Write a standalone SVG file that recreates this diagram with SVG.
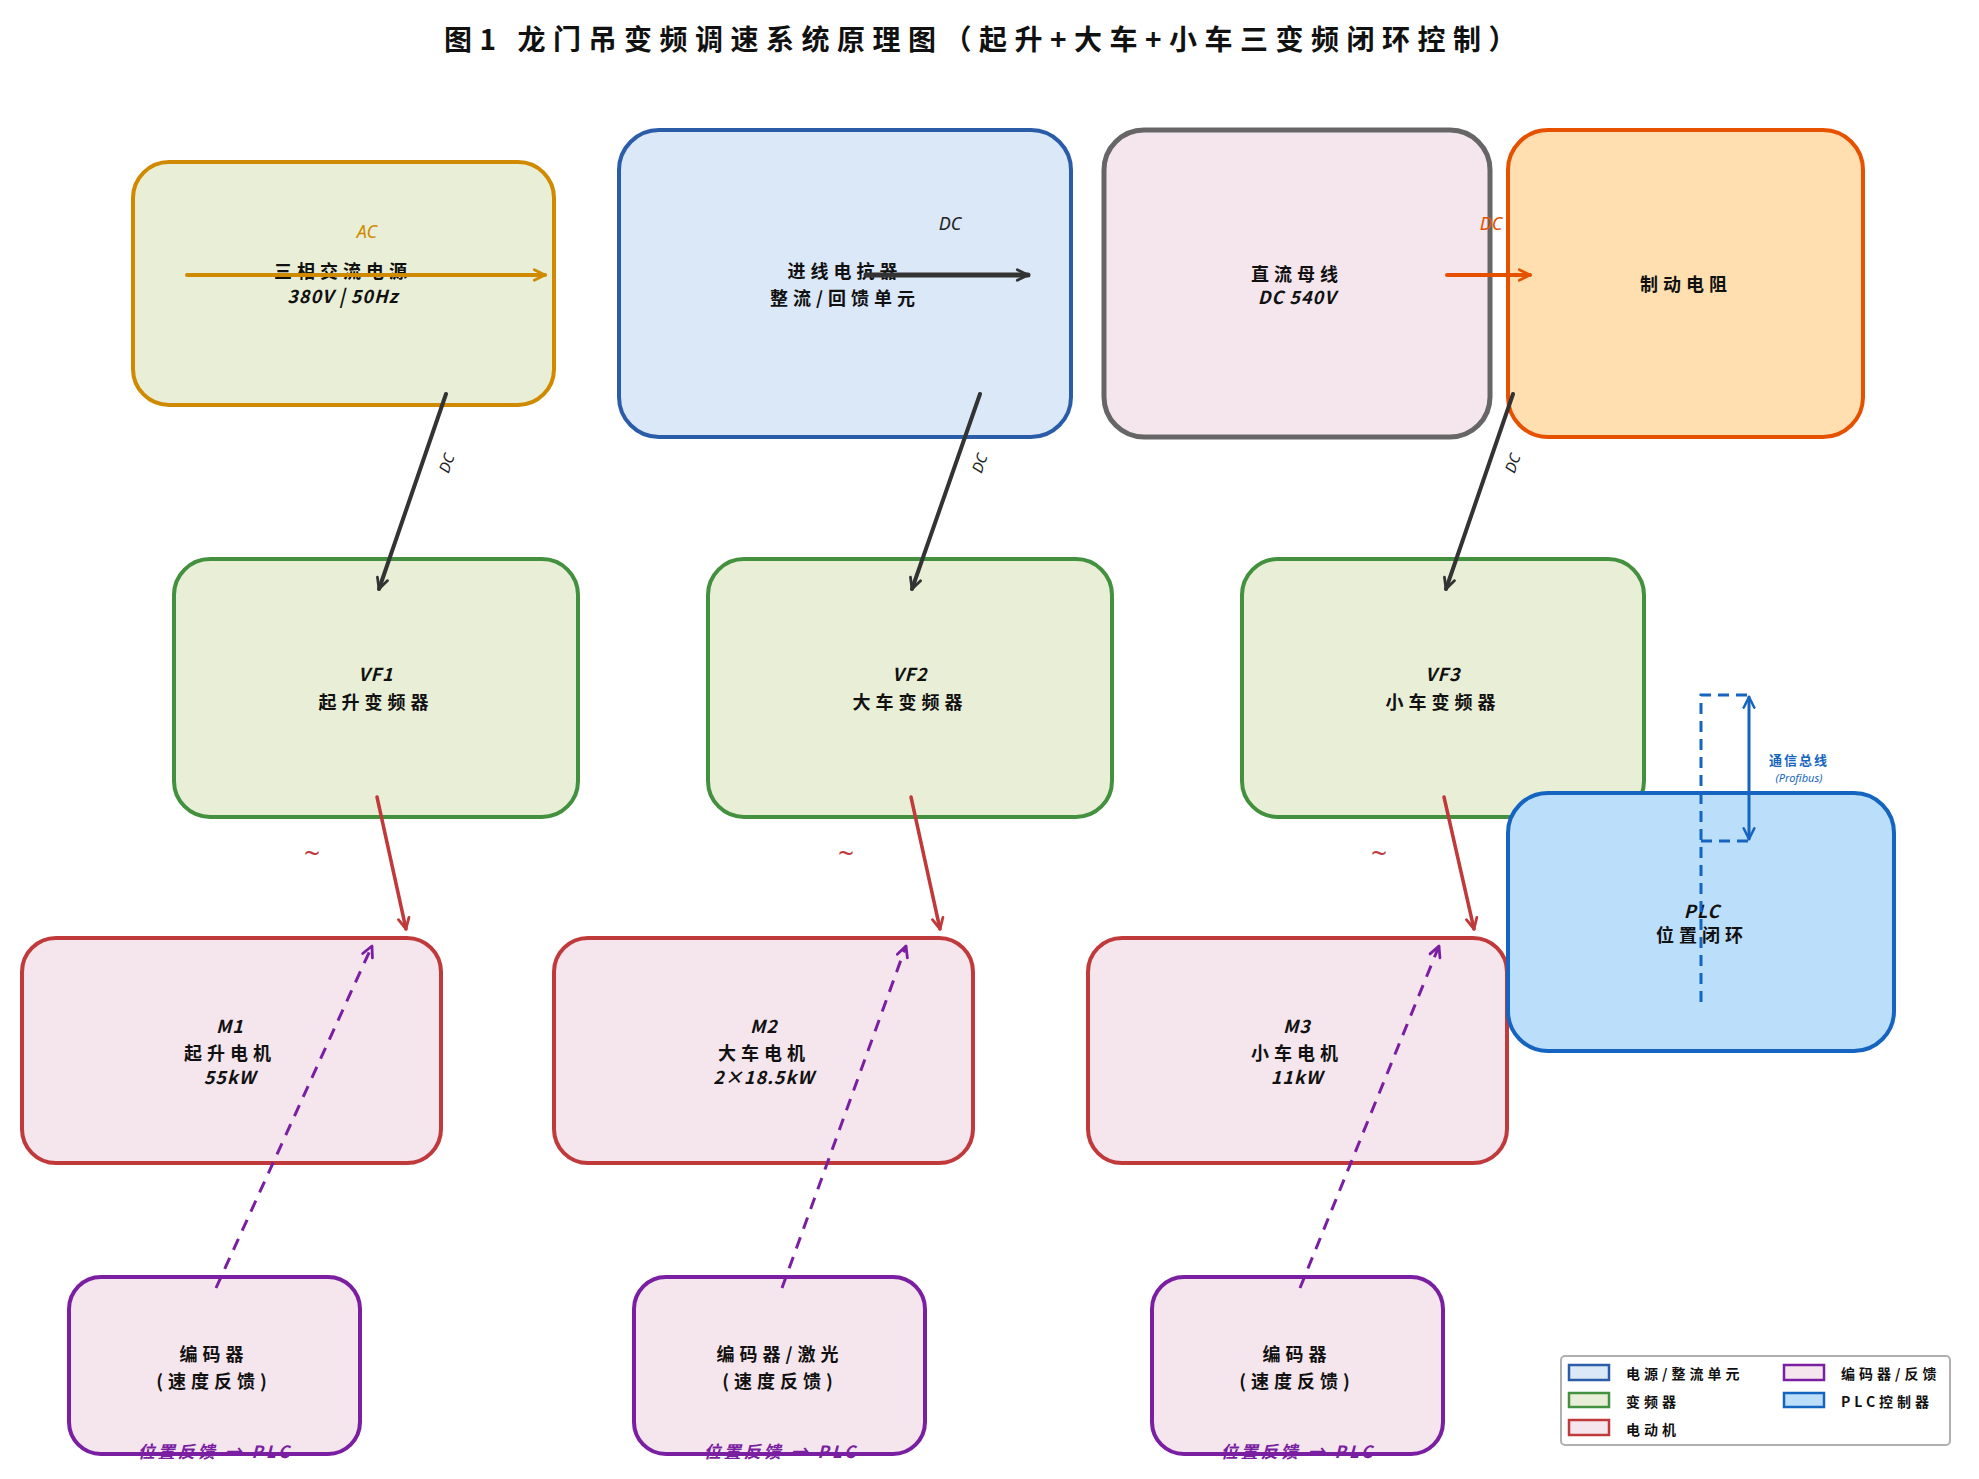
<svg xmlns="http://www.w3.org/2000/svg" width="1979" height="1479" viewBox="0 0 1979 1479">
<defs>
<style>
.t{font-family:"Noto Sans CJK SC","Noto Sans",sans-serif;font-size:18px;font-weight:700;fill:#111;letter-spacing:5px;text-anchor:middle;dominant-baseline:central}
.lat{letter-spacing:1px;font-style:italic}
.title{font-family:"Noto Sans CJK SC","Noto Sans",sans-serif;font-size:28px;font-weight:700;fill:#111;letter-spacing:7.5px;text-anchor:middle;dominant-baseline:central}
.el{font-family:"Noto Sans","Noto Sans CJK SC",sans-serif;font-size:18px;font-style:italic;text-anchor:middle;dominant-baseline:central}
.rot{font-size:15px;fill:#222}
.tl{font-size:28px;font-style:normal;fill:#c0393b}
.bus{font-family:"Noto Sans CJK SC",sans-serif;font-size:13px;font-style:normal;font-weight:700;letter-spacing:2px;fill:#1565c0}
.pb{font-size:11px;fill:#1565c0}
.fb{font-family:"Noto Sans CJK SC",sans-serif;font-size:17px;font-style:italic;font-weight:700;letter-spacing:3px;fill:#7b1fa2;text-anchor:middle;dominant-baseline:central}
.lg{font-family:"Noto Sans CJK SC","Noto Sans",sans-serif;font-size:14px;font-weight:700;fill:#111;letter-spacing:4px;dominant-baseline:central}
.box{stroke-width:4}
</style>
<marker id="aDark" viewBox="0 0 14 14" refX="12" refY="7" markerWidth="15" markerHeight="15" markerUnits="userSpaceOnUse" orient="auto"><path d="M2,2 L12,7 L2,12" fill="none" stroke="#333" stroke-width="2.6" stroke-linecap="round" stroke-linejoin="round"/></marker>
<marker id="aGold" viewBox="0 0 14 14" refX="12" refY="7" markerWidth="15" markerHeight="15" markerUnits="userSpaceOnUse" orient="auto"><path d="M2,2 L12,7 L2,12" fill="none" stroke="#d08a00" stroke-width="2.6" stroke-linecap="round" stroke-linejoin="round"/></marker>
<marker id="aOrange" viewBox="0 0 14 14" refX="12" refY="7" markerWidth="15" markerHeight="15" markerUnits="userSpaceOnUse" orient="auto"><path d="M2,2 L12,7 L2,12" fill="none" stroke="#e65100" stroke-width="2.6" stroke-linecap="round" stroke-linejoin="round"/></marker>
<marker id="aRed" viewBox="0 0 14 14" refX="12" refY="7" markerWidth="15" markerHeight="15" markerUnits="userSpaceOnUse" orient="auto"><path d="M2,2 L12,7 L2,12" fill="none" stroke="#c0393b" stroke-width="2.6" stroke-linecap="round" stroke-linejoin="round"/></marker>
<marker id="aPurple" viewBox="0 0 14 14" refX="12" refY="7" markerWidth="15" markerHeight="15" markerUnits="userSpaceOnUse" orient="auto"><path d="M2,2 L12,7 L2,12" fill="none" stroke="#7b1fa2" stroke-width="2.6" stroke-linecap="round" stroke-linejoin="round"/></marker>
<marker id="aBlue" viewBox="0 0 14 14" refX="12" refY="7" markerWidth="15" markerHeight="15" markerUnits="userSpaceOnUse" orient="auto-start-reverse"><path d="M2,2 L12,7 L2,12" fill="none" stroke="#1565c0" stroke-width="2.4" stroke-linecap="round" stroke-linejoin="round"/></marker>
</defs>
<rect width="1979" height="1479" fill="#ffffff"/>
<text class="title" x="984" y="38">图1 龙门吊变频调速系统原理图（起升+大车+小车三变频闭环控制）</text>

<g id="nodes">
<g id="power">
<rect class="box" x="133" y="162" width="421" height="243" rx="36" fill="#e9efd6" stroke="#d08a00"/>
<text class="t" x="343" y="270">三相交流电源</text>
<text class="t lat" x="343" y="295">380V | 50Hz</text>
</g>
<g id="reactor">
<rect class="box" x="619" y="130" width="452" height="307" rx="40" fill="#dae8f8" stroke="#2b5ca8"/>
<text class="t" x="845" y="270">进线电抗器</text>
<text class="t" x="845" y="297">整流/回馈单元</text>
</g>
<g id="dcbus">
<rect x="1104" y="130" width="386" height="307" rx="40" fill="#f5e6ee" stroke="#666666" stroke-width="5"/>
<text class="t" x="1297" y="273">直流母线</text>
<text class="t lat" x="1297" y="296">DC 540V</text>
</g>
<g id="brake">
<rect class="box" x="1508" y="130" width="355" height="307" rx="40" fill="#ffdfb0" stroke="#e65100"/>
<text class="t" x="1686" y="283">制动电阻</text>
</g>
<g id="vf1">
<rect class="box" x="174" y="559" width="404" height="258" rx="36" fill="#e9efd6" stroke="#43903f"/>
<text class="t lat" x="376" y="673">VF1</text>
<text class="t" x="376" y="701">起升变频器</text>
</g>
<g id="vf2">
<rect class="box" x="708" y="559" width="404" height="258" rx="36" fill="#e9efd6" stroke="#43903f"/>
<text class="t lat" x="910" y="673">VF2</text>
<text class="t" x="910" y="701">大车变频器</text>
</g>
<g id="vf3">
<rect class="box" x="1242" y="559" width="402" height="258" rx="36" fill="#e9efd6" stroke="#43903f"/>
<text class="t lat" x="1443" y="673">VF3</text>
<text class="t" x="1443" y="701">小车变频器</text>
</g>
<g id="m1">
<rect class="box" x="22" y="938" width="419" height="225" rx="34" fill="#f5e6ee" stroke="#c0393b"/>
<text class="t lat" x="230" y="1025">M1</text>
<text class="t" x="230" y="1052">起升电机</text>
<text class="t lat" x="230" y="1076">55kW</text>
</g>
<g id="m2">
<rect class="box" x="554" y="938" width="419" height="225" rx="34" fill="#f5e6ee" stroke="#c0393b"/>
<text class="t lat" x="764" y="1025">M2</text>
<text class="t" x="764" y="1052">大车电机</text>
<text class="t lat" x="764" y="1076">2×18.5kW</text>
</g>
<g id="m3">
<rect class="box" x="1088" y="938" width="419" height="225" rx="34" fill="#f5e6ee" stroke="#c0393b"/>
<text class="t lat" x="1297" y="1025">M3</text>
<text class="t" x="1297" y="1052">小车电机</text>
<text class="t lat" x="1297" y="1076">11kW</text>
</g>
<g id="enc1">
<rect class="box" x="69" y="1277" width="291" height="177" rx="32" fill="#f5e6ee" stroke="#7b1fa2"/>
<text class="t" x="214" y="1353">编码器</text>
<text class="t" x="214" y="1380">(速度反馈)</text>
</g>
<g id="enc2">
<rect class="box" x="634" y="1277" width="291" height="177" rx="32" fill="#f5e6ee" stroke="#7b1fa2"/>
<text class="t" x="780" y="1353">编码器/激光</text>
<text class="t" x="780" y="1380">(速度反馈)</text>
</g>
<g id="enc3">
<rect class="box" x="1152" y="1277" width="291" height="177" rx="32" fill="#f5e6ee" stroke="#7b1fa2"/>
<text class="t" x="1297" y="1353">编码器</text>
<text class="t" x="1297" y="1380">(速度反馈)</text>
</g>
<g id="plc">
<rect class="box" x="1508" y="793" width="386" height="258" rx="40" fill="#bbdefb" stroke="#1565c0"/>
<text class="t lat" x="1702" y="910">PLC</text>
<text class="t" x="1702" y="934">位置闭环</text>
</g>
</g>

<g id="connectors" fill="none" stroke-linecap="round">
<line x1="187" y1="275" x2="545" y2="275" stroke="#d08a00" stroke-width="4" marker-end="url(#aGold)"/>
<text class="el" x="367" y="231" fill="#d08a00">AC</text>
<line x1="866" y1="275" x2="1028" y2="275" stroke="#333" stroke-width="5" marker-end="url(#aDark)"/>
<text class="el" x="950" y="223" fill="#222">DC</text>
<line x1="1447" y1="275" x2="1530" y2="275" stroke="#e65100" stroke-width="4" marker-end="url(#aOrange)"/>
<text class="el" x="1491" y="223" fill="#e65100">DC</text>

<line x1="446" y1="394" x2="379" y2="589" stroke="#333" stroke-width="4" marker-end="url(#aDark)"/>
<line x1="980" y1="394" x2="912" y2="589" stroke="#333" stroke-width="4" marker-end="url(#aDark)"/>
<line x1="1513" y1="394" x2="1446" y2="589" stroke="#333" stroke-width="4" marker-end="url(#aDark)"/>
<text class="el rot" x="446" y="463" transform="rotate(-70 446 463)">DC</text>
<text class="el rot" x="979" y="463" transform="rotate(-70 979 463)">DC</text>
<text class="el rot" x="1512" y="463" transform="rotate(-70 1512 463)">DC</text>

<line x1="377" y1="797" x2="406" y2="929" stroke="#c0393b" stroke-width="3.5" marker-end="url(#aRed)"/>
<line x1="911" y1="797" x2="940" y2="929" stroke="#c0393b" stroke-width="3.5" marker-end="url(#aRed)"/>
<line x1="1444" y1="797" x2="1474" y2="929" stroke="#c0393b" stroke-width="3.5" marker-end="url(#aRed)"/>
<text class="el tl" x="312" y="852">~</text>
<text class="el tl" x="846" y="852">~</text>
<text class="el tl" x="1379" y="852">~</text>

<line x1="216" y1="1288" x2="372" y2="946" stroke="#7b1fa2" stroke-width="3" stroke-dasharray="12 9" stroke-linecap="butt" marker-end="url(#aPurple)"/>
<line x1="782" y1="1288" x2="906" y2="946" stroke="#7b1fa2" stroke-width="3" stroke-dasharray="12 9" stroke-linecap="butt" marker-end="url(#aPurple)"/>
<line x1="1300" y1="1288" x2="1439" y2="946" stroke="#7b1fa2" stroke-width="3" stroke-dasharray="12 9" stroke-linecap="butt" marker-end="url(#aPurple)"/>
<text class="fb" x="215" y="1450">位置反馈 → PLC</text>
<text class="fb" x="781" y="1450">位置反馈 → PLC</text>
<text class="fb" x="1298" y="1450">位置反馈 → PLC</text>

<path d="M1701,1002 V695 H1749 M1701,841 H1749" stroke="#1565c0" stroke-width="3" stroke-dasharray="11 7" stroke-linecap="butt"/>
<line x1="1749" y1="697" x2="1749" y2="839" stroke="#1565c0" stroke-width="3" marker-start="url(#aBlue)" marker-end="url(#aBlue)"/>
<text class="el bus" x="1799" y="759">通信总线</text>
<text class="el pb" x="1799" y="777">(Profibus)</text>
</g>

<g id="legend">
<rect x="1561" y="1356" width="389" height="89" rx="4" fill="#ffffff" stroke="#b0b0b0" stroke-width="2"/>
<rect x="1569" y="1365" width="40" height="15" fill="#dae8f8" stroke="#2b5ca8" stroke-width="2.5"/>
<text class="lg" x="1626" y="1373">电源/整流单元</text>
<rect x="1569" y="1393" width="40" height="14" fill="#e9efd6" stroke="#43903f" stroke-width="2.5"/>
<text class="lg" x="1626" y="1401">变频器</text>
<rect x="1569" y="1420" width="40" height="15" fill="#f5e6ee" stroke="#c0393b" stroke-width="2.5"/>
<text class="lg" x="1626" y="1429">电动机</text>
<rect x="1784" y="1365" width="40" height="15" fill="#f5e6ee" stroke="#7b1fa2" stroke-width="2.5"/>
<text class="lg" x="1841" y="1373">编码器/反馈</text>
<rect x="1784" y="1393" width="40" height="14" fill="#bbdefb" stroke="#1565c0" stroke-width="2.5"/>
<text class="lg" x="1841" y="1401">PLC控制器</text>
</g>
</svg>
